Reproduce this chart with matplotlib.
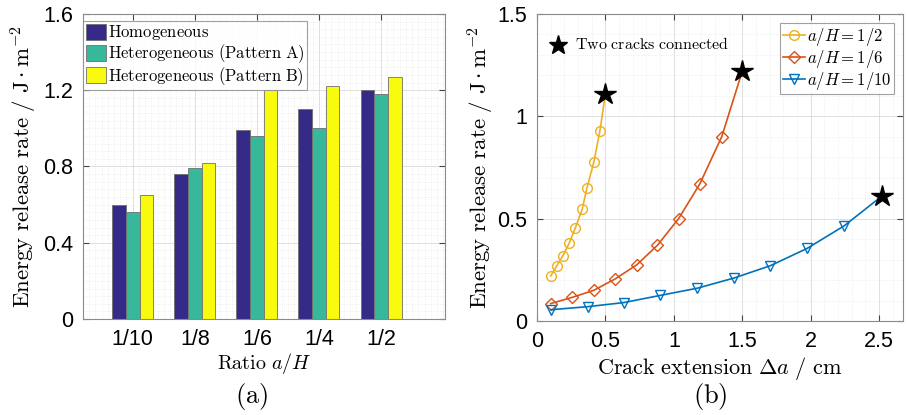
import numpy as np
import matplotlib
matplotlib.use("Agg")
import matplotlib.pyplot as plt
from matplotlib.ticker import MultipleLocator

plt.rcParams["mathtext.fontset"] = "cm"
plt.rcParams["font.family"] = ["Liberation Sans", "DejaVu Sans"]

# ------------------------------
# Data (a): bar chart
# ------------------------------
ratios = ["1/10", "1/8", "1/6", "1/4", "1/2"]
homogeneous = [0.60, 0.76, 0.99, 1.10, 1.20]
pattern_a = [0.56, 0.79, 0.96, 1.00, 1.18]
pattern_b = [0.65, 0.82, 1.20, 1.22, 1.27]

# ------------------------------
# Data (b): crack extension curves
# ------------------------------
da_half = [0.10, 0.145, 0.19, 0.235, 0.28, 0.33, 0.365, 0.415, 0.46]
g_half = [0.22, 0.27, 0.32, 0.38, 0.455, 0.545, 0.65, 0.775, 0.93]
da_sixth = [0.10, 0.255, 0.415, 0.57, 0.73, 0.88, 1.035, 1.19, 1.35]
g_sixth = [0.085, 0.115, 0.15, 0.205, 0.275, 0.37, 0.50, 0.67, 0.90]
da_tenth = [0.10, 0.37, 0.635, 0.90, 1.17, 1.44, 1.705, 1.975, 2.245]
g_tenth = [0.055, 0.07, 0.09, 0.125, 0.16, 0.21, 0.27, 0.355, 0.465]
# point where the two cracks connect
conn_da = [0.50, 1.50, 2.52]
conn_g = [1.11, 1.22, 0.61]

bar_colors = ["#352a87", "#37b89a", "#f9fb0e"]
line_colors = ["#edb120", "#d95319", "#0072bd"]

fig = plt.figure(figsize=(9.07, 4.15), dpi=100)
W, H = 907, 415
ax1 = fig.add_axes([83 / W, (H - 319) / H, 362 / W, 305 / H])
ax2 = fig.add_axes([537 / W, (H - 321) / H, 366 / W, 307 / H])


def style_axes(ax):
    ax.grid(True, which="major", color="#d9d9d9", lw=0.6)
    ax.grid(True, which="minor", color="#e6e6e6", lw=0.5, ls=":")
    ax.set_axisbelow(True)
    ax.tick_params(which="major", direction="in", length=4, top=True, right=True,
                   labelsize=15.5, color="#444444", pad=7)
    ax.tick_params(which="minor", length=0)
    for s in ax.spines.values():
        s.set_color("#8a8a8a")
        s.set_linewidth(0.8)


# ------------------------------
# Panel (a)
# ------------------------------
x = np.arange(1, len(ratios) + 1)
w = 0.22
labels = [r"$\mathrm{Homogeneous}$",
          r"$\mathrm{Heterogeneous\ (Pattern\ A)}$",
          r"$\mathrm{Heterogeneous\ (Pattern\ B)}$"]
for i, vals in enumerate([homogeneous, pattern_a, pattern_b]):
    ax1.bar(x + (i - 1) * w, vals, width=w, color=bar_colors[i],
            edgecolor="#707070", linewidth=0.6, label=labels[i])
ax1.set_xlim(0.2, 6.03)
ax1.set_ylim(0, 1.6)
ax1.set_xticks(x)
ax1.set_xticklabels(ratios)
ax1.set_yticks([0, 0.4, 0.8, 1.2, 1.6])
ax1.set_yticklabels(["0", "0.4", "0.8", "1.2", "1.6"])
ax1.xaxis.set_minor_locator(MultipleLocator(0.1))
ax1.yaxis.set_minor_locator(MultipleLocator(0.04))
style_axes(ax1)
ax1.set_xlabel(r"$\mathrm{Ratio}\ a/H$", fontsize=14.5, labelpad=1)
ax1.set_ylabel(r"$\mathrm{Energy\ release\ rate}\ /\ \mathrm{J}\cdot\mathrm{m}^{-2}$",
               fontsize=16.5, labelpad=3)
leg1 = ax1.legend(loc="upper left", bbox_to_anchor=(0.0, 1 - 7 / 305),
                  fontsize=12, frameon=True, fancybox=False,
                  handlelength=1.2, handleheight=1.1, handletextpad=0.15,
                  labelspacing=0.0, borderpad=0.15, borderaxespad=0.0)
leg1.get_frame().set_edgecolor("#8a8a8a")
leg1.get_frame().set_linewidth(0.8)

# ------------------------------
# Panel (b)
# ------------------------------
series = [(da_half, g_half, "o", r"$a/H=1/2$"),
          (da_sixth, g_sixth, "D", r"$a/H=1/6$"),
          (da_tenth, g_tenth, "v", r"$a/H=1/10$")]
for i, (dx, gy, mk, lab) in enumerate(series):
    ms = 7 if mk != "D" else 6
    ax2.plot(dx + [conn_da[i]], gy + [conn_g[i]], color=line_colors[i], lw=1.2)
    ax2.plot(dx, gy, ls="none", marker=mk, ms=ms,
             mfc="none", mec=line_colors[i], mew=1.0)
    ax2.plot([], [], color=line_colors[i], lw=1.2, marker=mk, mfc="none",
             mec=line_colors[i], ms=ms, label=lab)
ax2.plot(conn_da, conn_g, ls="none", marker="*", ms=16, color="black", zorder=5)
ax2.plot([0.155], [1.35], ls="none", marker="*", ms=14, color="black")
ax2.text(0.275, 1.352, r"$\mathrm{Two\ cracks\ connected}$", fontsize=11.5,
         va="center", ha="left")
ax2.set_xlim(0, 2.675)
ax2.set_ylim(0, 1.5)
ax2.set_xticks([0, 0.5, 1, 1.5, 2, 2.5])
ax2.set_xticklabels(["0", "0.5", "1", "1.5", "2", "2.5"])
ax2.set_yticks([0, 0.5, 1, 1.5])
ax2.set_yticklabels(["0", "0.5", "1", "1.5"])
ax2.xaxis.set_minor_locator(MultipleLocator(0.1))
ax2.yaxis.set_minor_locator(MultipleLocator(0.1))
style_axes(ax2)
ax2.set_xlabel(r"$\mathrm{Crack\ extension}\ \Delta a\ /\ \mathrm{cm}$", fontsize=16,
               labelpad=2)
ax2.set_ylabel(r"$\mathrm{Energy\ release\ rate}\ /\ \mathrm{J}\cdot\mathrm{m}^{-2}$",
               fontsize=16.5, labelpad=1)
leg2 = ax2.legend(loc="upper right", bbox_to_anchor=(1 - 9 / 366, 1 - 9 / 307),
                  fontsize=12, frameon=True, fancybox=False,
                  handlelength=1.3, handletextpad=0.15, labelspacing=0.0,
                  borderpad=0.15, borderaxespad=0.0)
leg2.get_frame().set_edgecolor("#8a8a8a")
leg2.get_frame().set_linewidth(0.8)

fig.text(252 / W, 1 - 396 / H, r"$\mathrm{(a)}$", fontsize=19, ha="center", va="center")
fig.text(710 / W, 1 - 396 / H, r"$\mathrm{(b)}$", fontsize=19, ha="center", va="center")

fig.savefig("out.png", dpi=100)
